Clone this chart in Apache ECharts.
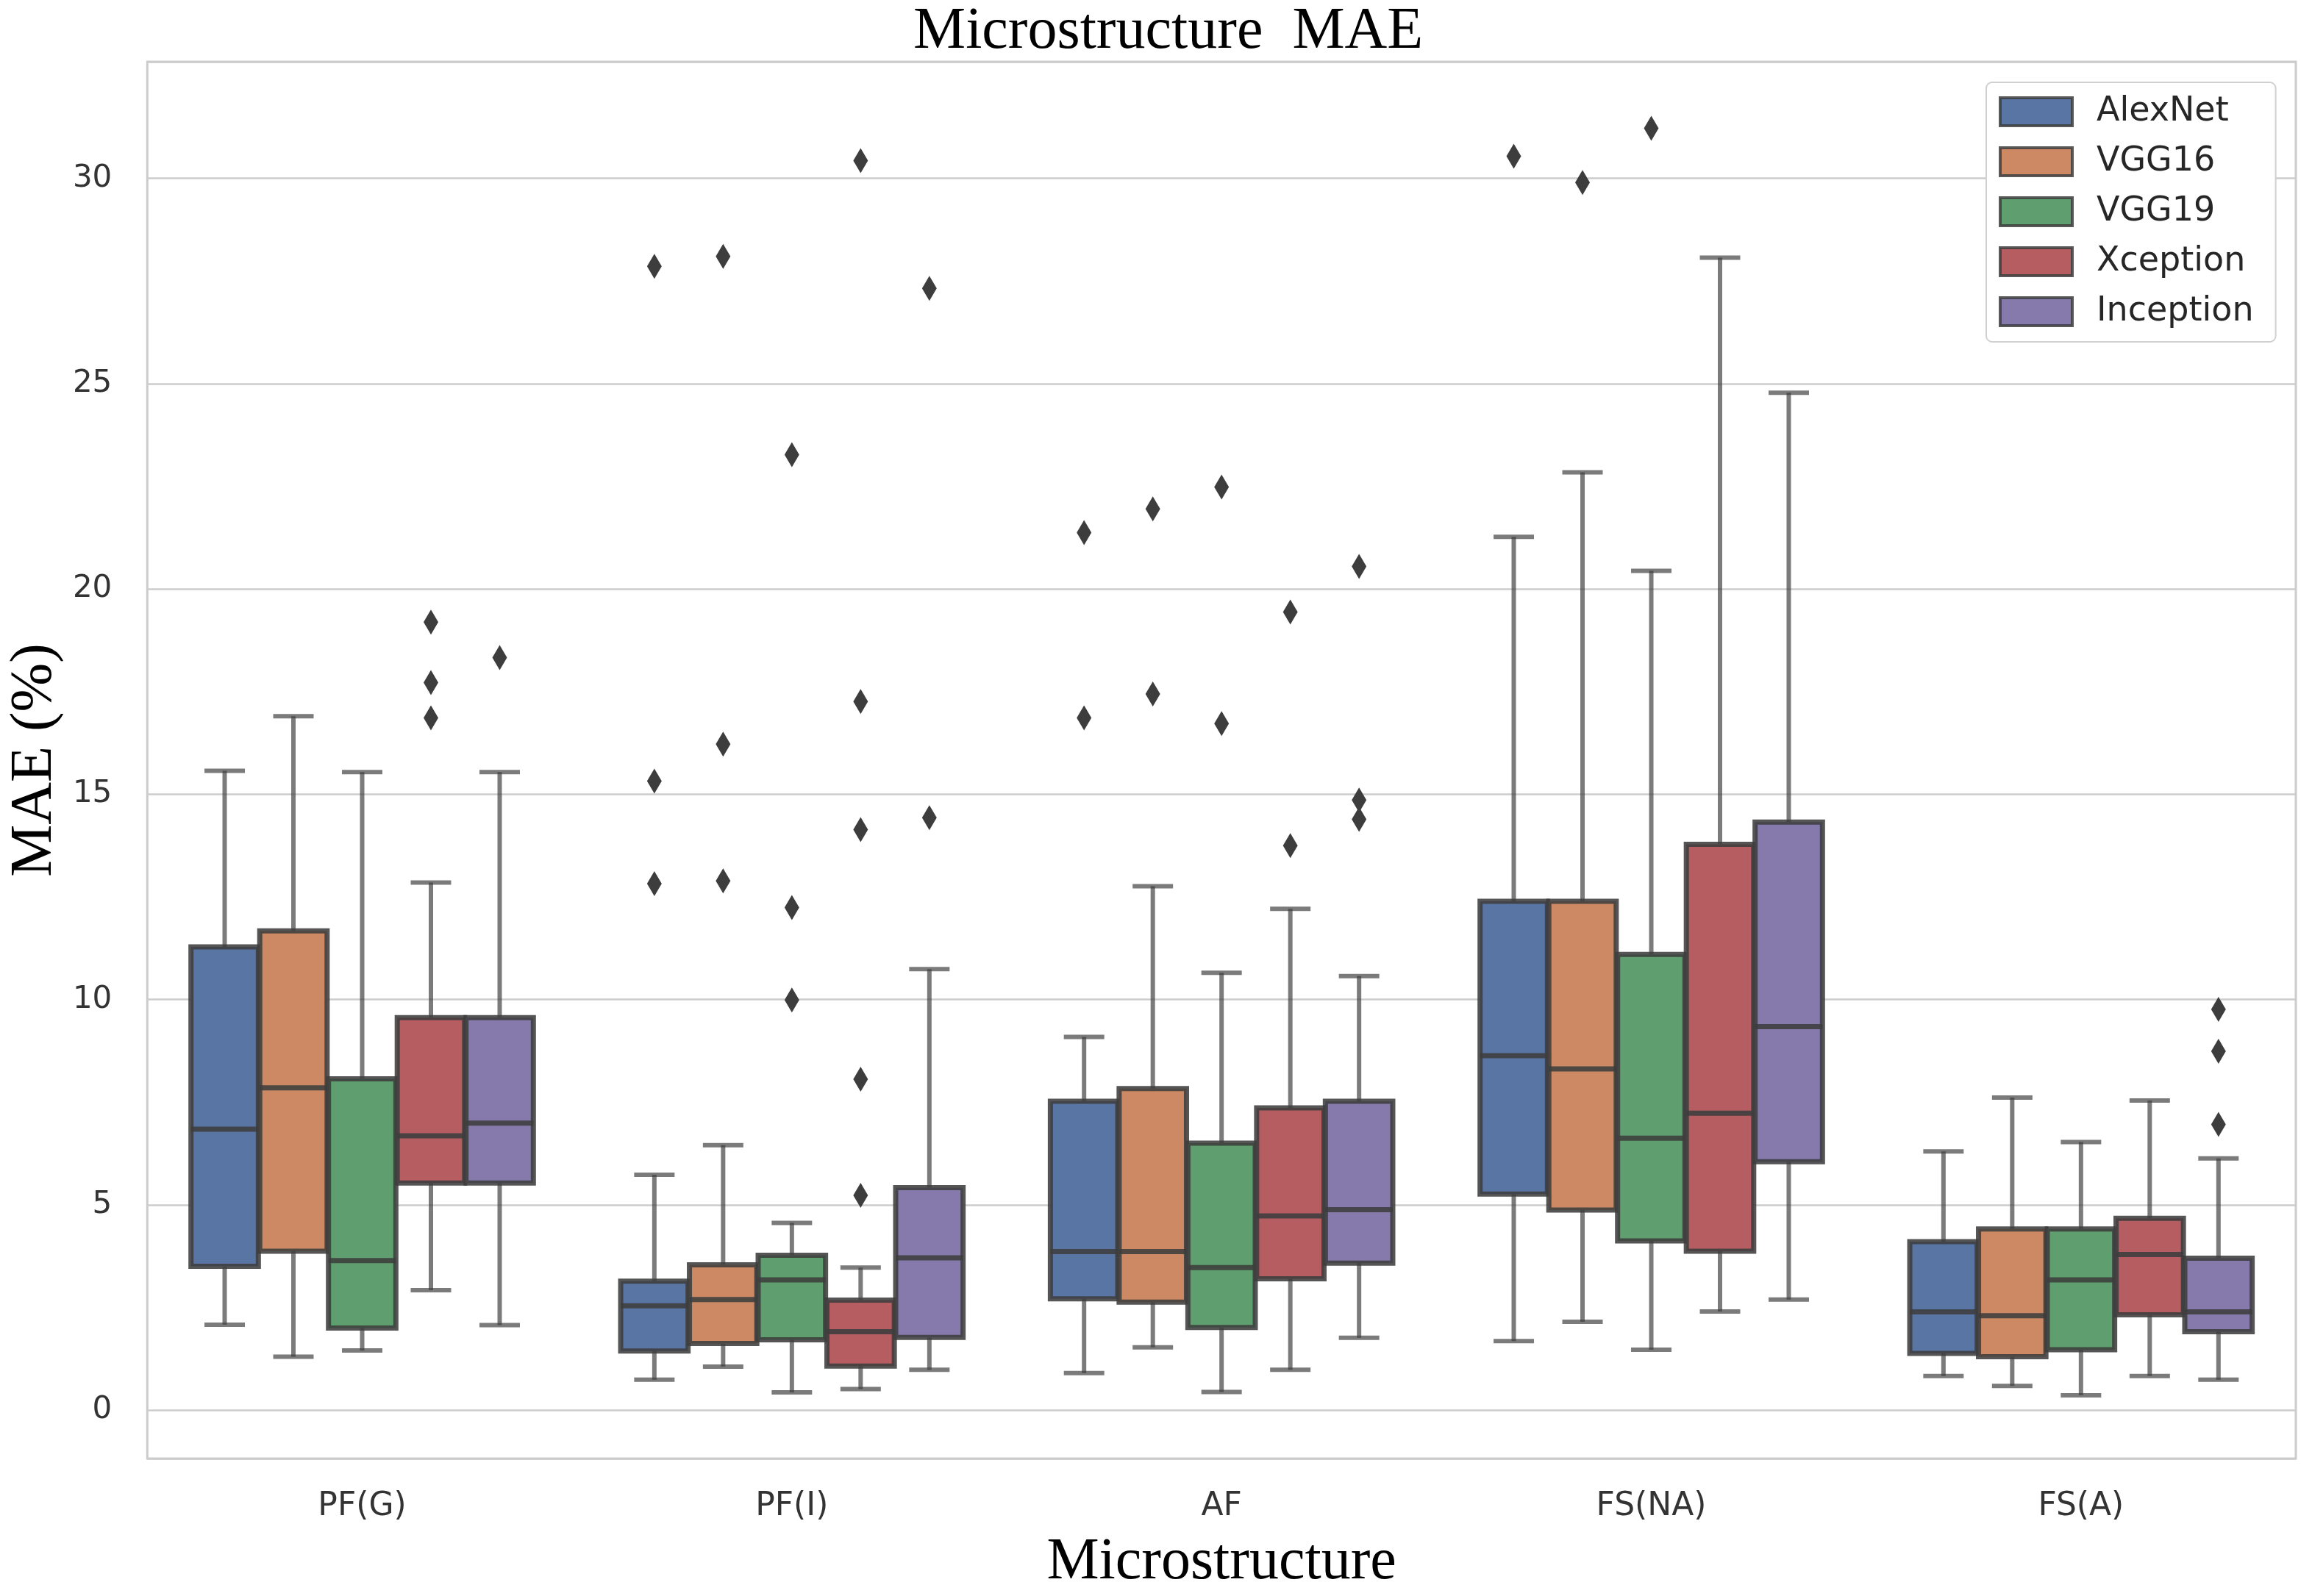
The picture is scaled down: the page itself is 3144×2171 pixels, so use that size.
<!DOCTYPE html>
<html>
<head>
<meta charset="utf-8">
<script src="https://cdn.jsdelivr.net/npm/echarts@6/dist/echarts.min.js"></script>
<style>
html,body{margin:0;padding:0;background:#fff;}
#chart{width:3144px;height:2171px;}
</style>
</head>
<body>
<div id="chart"></div>
<script>
// ---- data ----
const categories = ['PF(G)', 'PF(I)', 'AF', 'FS(NA)', 'FS(A)'];
const models = ['AlexNet', 'VGG16', 'VGG19', 'Xception', 'Inception'];
const colors = ['#5975A4', '#CC8963', '#5F9E6E', '#B55D60', '#857AAB'];

// [lower whisker, Q1, median, Q3, upper whisker] per category
const alexnetBox = [[2.08, 3.50, 6.84, 11.28, 15.57], [0.74, 1.44, 2.54, 3.14, 5.73], [0.90, 2.71, 3.86, 7.52, 9.09], [1.68, 5.26, 8.63, 12.39, 21.27], [0.83, 1.38, 2.39, 4.10, 6.30]];
const vgg16Box = [[1.30, 3.87, 7.85, 11.67, 16.90], [1.06, 1.62, 2.69, 3.54, 6.45], [1.53, 2.63, 3.86, 7.83, 12.76], [2.15, 4.87, 8.31, 12.39, 22.84], [0.59, 1.30, 2.30, 4.41, 7.61]];
const vgg19Box = [[1.45, 2.00, 3.64, 8.07, 15.54], [0.43, 1.71, 3.17, 3.77, 4.56], [0.44, 2.01, 3.47, 6.50, 10.65], [1.47, 4.12, 6.62, 11.10, 20.44], [0.36, 1.47, 3.17, 4.41, 6.53]];
const xceptionBox = [[2.92, 5.53, 6.68, 9.56, 12.85], [0.51, 1.07, 1.91, 2.68, 3.47], [0.98, 3.20, 4.73, 7.36, 12.21], [2.40, 3.87, 7.23, 13.78, 28.07], [0.83, 2.32, 3.79, 4.67, 7.54]];
const inceptionBox = [[2.07, 5.53, 6.99, 9.56, 15.54], [0.98, 1.77, 3.71, 5.42, 10.74], [1.76, 3.58, 4.88, 7.52, 10.57], [2.69, 6.05, 9.34, 14.32, 24.78], [0.74, 1.91, 2.39, 3.70, 6.13]];

// outliers per category
const alexnetOut = [[], [27.86, 15.32, 12.82], [21.37, 16.86], [30.54], []];
const vgg16Out = [[], [28.10, 16.22, 12.89], [21.95, 17.44], [29.90], []];
const vgg19Out = [[], [23.27, 12.24, 9.99], [22.48, 16.72], [31.22], []];
const xceptionOut = [[19.19, 17.72, 16.86], [30.43, 17.26, 14.14, 8.06, 5.23], [19.44, 13.75], [], []];
const inceptionOut = [[18.33], [27.32, 14.43], [20.55, 14.86, 14.39], [], [9.76, 8.74, 6.96]];

const yMin = -1.18;
const yMax = 32.84;

// ---- build ----
const boxSets = [alexnetBox, vgg16Box, vgg19Box, xceptionBox, inceptionBox];
const outSets = [alexnetOut, vgg16Out, vgg19Out, xceptionOut, inceptionOut];

const EDGE = 'rgba(61,61,61,0.88)';
const WHISK = 'rgba(61,61,61,0.68)';
const HUE_W = 0.16;

function boxRender(mi) {
  return function (params, api) {
    const ci = api.value(0);
    const band = api.size([1, 0])[0];
    const cx = api.coord([ci, 0])[0] + (mi - 2) * HUE_W * band;
    const hw = HUE_W * band * 0.98 / 2;
    const cw = hw * 0.6;
    const yl = api.coord([ci, api.value(1)])[1];
    const y1 = api.coord([ci, api.value(2)])[1];
    const ym = api.coord([ci, api.value(3)])[1];
    const y3 = api.coord([ci, api.value(4)])[1];
    const yh = api.coord([ci, api.value(5)])[1];
    const ws = { stroke: WHISK, lineWidth: 6 };
    return {
      type: 'group',
      children: [
        { type: 'line', shape: { x1: cx, y1: yl, x2: cx, y2: y1 }, style: ws },
        { type: 'line', shape: { x1: cx, y1: y3, x2: cx, y2: yh }, style: ws },
        { type: 'line', shape: { x1: cx - cw, y1: yl, x2: cx + cw, y2: yl }, style: ws },
        { type: 'line', shape: { x1: cx - cw, y1: yh, x2: cx + cw, y2: yh }, style: ws },
        { type: 'rect', shape: { x: cx - hw, y: y3, width: hw * 2, height: y1 - y3 },
          style: { fill: colors[mi], stroke: EDGE, lineWidth: 7 } },
        { type: 'line', shape: { x1: cx - hw, y1: ym, x2: cx + hw, y2: ym },
          style: { stroke: EDGE, lineWidth: 7 } }
      ]
    };
  };
}

function outRender(mi) {
  return function (params, api) {
    const ci = api.value(0);
    const band = api.size([1, 0])[0];
    const p = api.coord([ci, api.value(1)]);
    const cx = p[0] + (mi - 2) * HUE_W * band;
    const cy = p[1];
    const w = 10, h = 17;
    return {
      type: 'polygon',
      shape: { points: [[cx, cy - h], [cx + w, cy], [cx, cy + h], [cx - w, cy]] },
      style: { fill: '#3d3d3d' }
    };
  };
}

const series = [];
models.forEach(function (name, mi) {
  series.push({
    name: name,
    type: 'custom',
    renderItem: boxRender(mi),
    itemStyle: { color: colors[mi] },
    encode: { x: 0, y: [1, 2, 3, 4, 5] },
    data: boxSets[mi].map(function (b, ci) { return [ci].concat(b); }),
    z: 3
  });
});
models.forEach(function (name, mi) {
  const pts = [];
  outSets[mi].forEach(function (arr, ci) { arr.forEach(function (v) { pts.push([ci, v]); }); });
  series.push({
    name: name + ' outliers',
    type: 'custom',
    renderItem: outRender(mi),
    encode: { x: 0, y: 1 },
    data: pts,
    z: 4
  });
});

const chart = echarts.init(document.getElementById('chart'));
chart.setOption({
  backgroundColor: '#ffffff',
  animation: false,
  title: {
    text: 'Microstructure  MAE',
    left: 1242,
    top: 4,
    padding: 0,
    textStyle: { fontFamily: 'Liberation Serif', fontSize: 80, fontWeight: 'normal', color: '#000' }
  },
  legend: {
    data: models,
    orient: 'vertical',
    left: 2701,
    top: 112,
    padding: [17, 30, 18, 17],
    backgroundColor: '#ffffff',
    borderColor: '#d0d0d0',
    borderWidth: 2,
    borderRadius: 8,
    icon: 'rect',
    itemWidth: 98,
    itemHeight: 38,
    itemGap: 22,
    itemStyle: { borderColor: 'rgba(61,61,61,0.85)', borderWidth: 4 },
    textStyle: { fontFamily: 'DejaVu Sans', fontSize: 46, lineHeight: 46, color: '#262626', padding: [0, 0, 0, 28] }
  },
  grid: {
    left: 196, right: 22, top: 84, bottom: 184,
    show: true, borderColor: '#cccccc', borderWidth: 3, backgroundColor: '#ffffff'
  },
  xAxis: {
    type: 'category',
    data: categories,
    boundaryGap: true,
    name: 'Microstructure',
    nameLocation: 'middle',
    nameGap: 102,
    nameTextStyle: { fontFamily: 'Liberation Serif', fontSize: 80, color: '#000' },
    axisLine: { show: false },
    axisTick: { show: false },
    splitLine: { show: false },
    axisLabel: { fontFamily: 'DejaVu Sans', fontSize: 44, color: '#333333', margin: 44 }
  },
  yAxis: {
    type: 'value',
    min: yMin,
    max: yMax,
    name: 'MAE (%)',
    nameLocation: 'middle',
    nameRotate: 90,
    nameGap: 110,
    nameTextStyle: { fontFamily: 'Liberation Serif', fontSize: 80, color: '#000' },
    axisLine: { show: false },
    axisTick: { show: false },
    splitLine: { show: true, lineStyle: { color: '#cccccc', width: 2.5 } },
    axisLabel: { fontFamily: 'DejaVu Sans', fontSize: 42, color: '#333333', margin: 48,
      showMinLabel: false, showMaxLabel: false }
  },
  series: series
});
</script>
</body>
</html>
